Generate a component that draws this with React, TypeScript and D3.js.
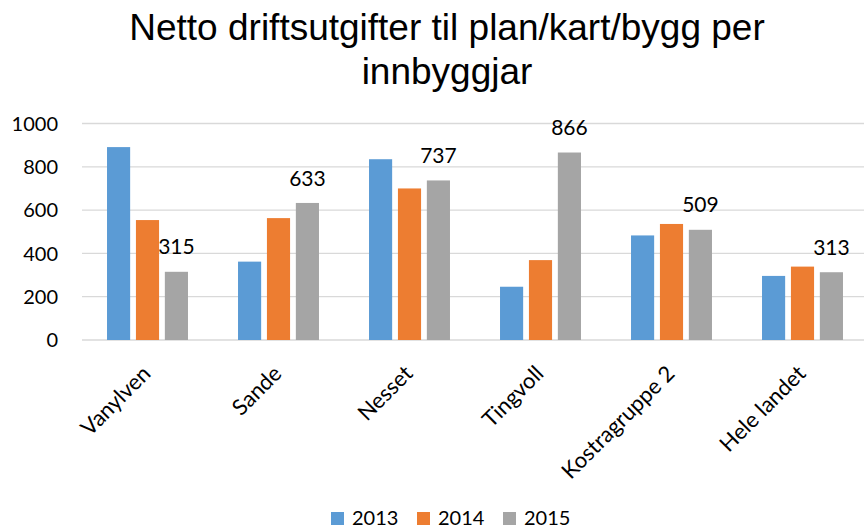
import { scaleBand, scaleLinear } from 'd3';

const categories = ['Vanylven', 'Sande', 'Nesset', 'Tingvoll', 'Kostragruppe 2', 'Hele landet'];
const years = ['2013', '2014', '2015'];
const values2013 = [891, 362, 835, 246, 483, 296];
const values2014 = [554, 563, 700, 369, 536, 339];
const values2015 = [315, 633, 737, 866, 509, 313];
const yTicks = [0, 200, 400, 600, 800, 1000];
const colors = ['#5B9BD5', '#ED7D31', '#A5A5A5'];

const series = [values2013, values2014, values2015];

const W = 864;
const H = 529;
const font = 'Lato, "Noto Sans", sans-serif';
const titleFont = '"Liberation Sans", Arial, sans-serif';

const App = () => {
  const x0 = scaleBand()
    .domain(categories)
    .range([82, 868])
    .paddingInner(0.382)
    .paddingOuter(0.191);
  const x1 = scaleBand().domain(years).range([0, x0.bandwidth()]).paddingInner(0.2);
  const y = scaleLinear().domain([0, 1000]).range([340, 123.5]);

  return (
    <svg width={W} height={H} style={{ position: 'absolute', left: 0, top: 0, background: '#fff' }}>
      <text x={447} y={40} textAnchor='middle' fontFamily={titleFont} fontSize={37} fill='#000'>
        Netto driftsutgifter til plan/kart/bygg per
      </text>
      <text x={447} y={83.5} textAnchor='middle' fontFamily={titleFont} fontSize={37} fill='#000'>
        innbyggjar
      </text>

      {/* grid + y labels */}
      {yTicks.map((t) => (
        <g key={t}>
          <line x1={82} x2={864} y1={y(t)} y2={y(t)} stroke='#d9d9d9' strokeWidth={1.3} />
          <text x={58} y={y(t)} dy='0.36em' textAnchor='end' fontFamily={font} fontSize={20} fill='#000'>
            {t}
          </text>
        </g>
      ))}

      {/* bars */}
      {categories.map((c, i) => (
        <g key={c} transform={`translate(${x0(c)},0)`}>
          {series.map((vals, j) => (
            <rect
              key={years[j]}
              x={x1(years[j])}
              y={y(vals[i])}
              width={x1.bandwidth()}
              height={y(0) - y(vals[i])}
              fill={colors[j]}
            />
          ))}
          <text
            x={(x1('2015') ?? 0) + x1.bandwidth() / 2}
            y={y(values2015[i]) - 25}
            dy='0.36em'
            textAnchor='middle'
            fontFamily={font}
            fontSize={21}
            fill='#000'
          >
            {values2015[i]}
          </text>
        </g>
      ))}

      {/* x labels */}
      {categories.map((c) => {
        const cx = (x0(c) ?? 0) + x0.bandwidth() / 2 + 4.5;
        return (
          <text
            key={c}
            transform={`translate(${cx},375) rotate(-45)`}
            textAnchor='end'
            fontFamily={font}
            fontSize={22}
            fill='#000'
          >
            {c}
          </text>
        );
      })}

      {/* legend */}
      {years.map((yr, j) => {
        const lx = 331 + j * 86;
        return (
          <g key={yr}>
            <rect x={lx} y={512} width={13} height={13} fill={colors[j]} />
            <text x={lx + 21} y={525} fontFamily={font} fontSize={20} fill='#000'>
              {yr}
            </text>
          </g>
        );
      })}
    </svg>
  );
};

export default App;
